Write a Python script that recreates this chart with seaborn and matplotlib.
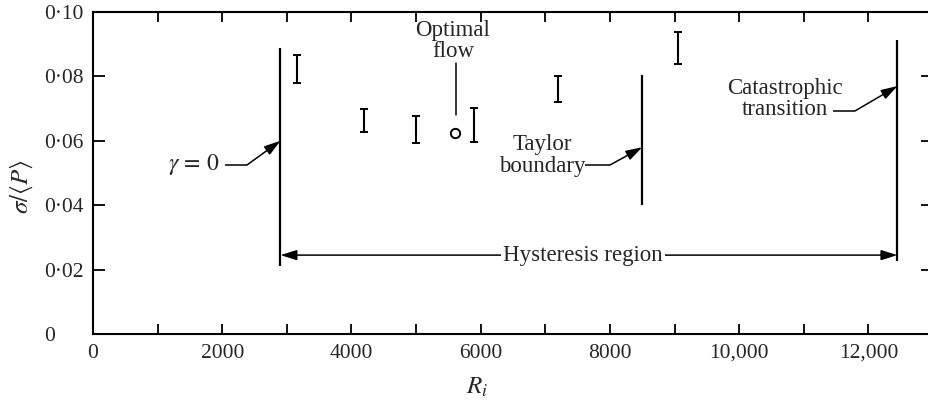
import numpy as np
import pandas as pd
import matplotlib
matplotlib.use("Agg")
import matplotlib.pyplot as plt
from matplotlib.ticker import FixedLocator, MultipleLocator, NullFormatter
import seaborn as sns

# Measured fluctuation ranges (sigma / <P>) at each Reynolds number R_i
ri_bars = [3150, 4200, 5000, 5900, 7200, 9050]
sigma_low = [0.0780, 0.0627, 0.0593, 0.0596, 0.0720, 0.0839]
sigma_high = [0.0866, 0.0699, 0.0677, 0.0702, 0.0801, 0.0938]

# Optimal-flow operating point
ri_optimal = [5600]
sigma_optimal = [0.0624]

# Flow regime boundaries: gamma = 0, Taylor boundary, catastrophic transition
boundary_ri = [2900, 8500, 12450]
boundary_low = [0.0211, 0.0400, 0.0227]
boundary_high = [0.0888, 0.0804, 0.0913]

x_ticks = [0, 2000, 4000, 6000, 8000, 10000, 12000]
x_tick_labels = ["0", "2000", "4000", "6000", "8000", "10,000", "12,000"]
y_ticks = [0, 0.02, 0.04, 0.06, 0.08, 0.10]
y_tick_labels = ["0", "0·02", "0·04", "0·06", "0·08", "0·10"]

sns.set_theme(style="ticks")
plt.rcParams["font.family"] = ["Liberation Serif", "DejaVu Serif"]
plt.rcParams["mathtext.fontset"] = "stix"
plt.rcParams["axes.linewidth"] = 1.5

FS_TICK = 15.5
FS_ANN = 16.5
FS_LAB = 18
INK = "black"

fig = plt.figure(figsize=(9.29, 4.0), dpi=100)
ax = fig.add_axes([93 / 929, 66 / 400, 840 / 929, 322 / 400])

bars = pd.DataFrame({"ri": ri_bars, "low": sigma_low, "high": sigma_high})
bars["mid"] = (bars["low"] + bars["high"]) / 2
yerr = np.vstack([bars["mid"] - bars["low"], bars["high"] - bars["mid"]])
ax.errorbar(bars["ri"], bars["mid"], yerr=yerr, fmt="none", ecolor=INK,
            elinewidth=1.5, capsize=3.0, capthick=1.4)

opt = pd.DataFrame({"ri": ri_optimal, "sigma": sigma_optimal})
sns.scatterplot(data=opt, x="ri", y="sigma", ax=ax, marker="o", s=45,
                facecolor="white", edgecolor=INK, linewidth=1.4, zorder=3)

ax.vlines(boundary_ri, boundary_low, boundary_high, colors=INK, linewidth=1.6)

arrow_kw = dict(arrowstyle="-|>,head_length=0.9,head_width=0.28",
                color=INK, lw=1.1, shrinkA=0, shrinkB=0, mutation_scale=11)


def leader(x0, x1, y, target):
    ax.plot([x0, x1], [y, y], color=INK, lw=1.1, solid_capstyle="butt")
    ax.annotate("", xy=target, xytext=(x1, y), arrowprops=arrow_kw)


# gamma = 0
ax.text(1966, 0.0525, r"$\gamma\,=\,0$", ha="right", va="center",
        fontsize=FS_ANN + 0.5)
leader(2043, 2384, 0.0525, (boundary_ri[0], 0.060))

# Optimal flow label with its pointer line
ax.text(5570, 0.0910, "Optimal\nflow", ha="center", va="center",
        fontsize=FS_ANN, linespacing=1.05)
ax.plot([5620, 5620], [0.0680, 0.0842], color=INK, lw=1.1)

# Taylor boundary
ax.text(6950, 0.0554, "Taylor\nboundary", ha="center", va="center",
        fontsize=FS_ANN, linespacing=1.05)
leader(7616, 8003, 0.0525, (boundary_ri[1], 0.058))

# Catastrophic transition
ax.text(10712, 0.0730, "Catastrophic\ntransition", ha="center", va="center",
        fontsize=FS_ANN, linespacing=1.05)
leader(11455, 11796, 0.0693, (boundary_ri[2], 0.077))

# Hysteresis region spanning gamma = 0 to the catastrophic transition
ax.annotate("", xy=(boundary_ri[0], 0.0245), xytext=(boundary_ri[2], 0.0245),
            arrowprops=dict(arrowstyle="<|-|>,head_length=0.9,head_width=0.28",
                            color=INK, lw=1.1, shrinkA=0, shrinkB=0,
                            mutation_scale=11))
ax.text(7585, 0.0245, "Hysteresis region", ha="center", va="center",
        fontsize=FS_ANN, zorder=4,
        bbox=dict(boxstyle="square,pad=0.08", facecolor="white",
                  edgecolor="none"))

ax.set_xlim(0, 13000)
ax.set_ylim(0, 0.10)
ax.xaxis.set_major_locator(FixedLocator(x_ticks))
ax.set_xticklabels(x_tick_labels, fontsize=FS_TICK)
ax.xaxis.set_minor_locator(MultipleLocator(1000))
ax.xaxis.set_minor_formatter(NullFormatter())
ax.yaxis.set_major_locator(FixedLocator(y_ticks))
ax.set_yticklabels(y_tick_labels, fontsize=FS_TICK)

ax.tick_params(axis="both", which="both", direction="in", top=True,
               right=True, color=INK, width=1.3)
ax.tick_params(axis="x", which="both", length=7, pad=7)
ax.tick_params(axis="y", which="major", length=8.5, pad=35)
for lab in ax.get_yticklabels():
    lab.set_horizontalalignment("left")

for sp in ax.spines.values():
    sp.set_color(INK)

ax.set_xlabel(r"$R_i$", fontsize=FS_LAB)
ax.set_ylabel(r"$\sigma/\langle P\rangle$", fontsize=FS_LAB)
ax.xaxis.set_label_coords(0.457, -0.165)
ax.xaxis.label.set_va("center")
ax.yaxis.set_label_coords(-0.085, 0.457)
ax.yaxis.label.set_va("center")

fig.savefig("out.png", dpi=100, facecolor="white")
